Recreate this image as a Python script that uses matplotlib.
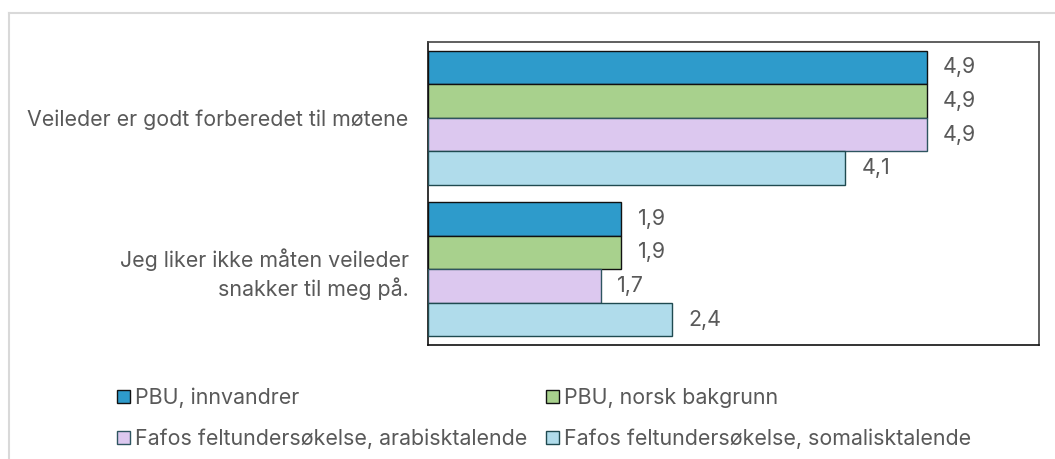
import numpy as np
import matplotlib
matplotlib.use("Agg")
import matplotlib.pyplot as plt
from matplotlib.lines import Line2D
from matplotlib.patches import Patch

plt.rcParams["font.family"] = ["Inter", "DejaVu Sans"]

# ── Data ──────────────────────────────────────────────────────────────────────
categories = ["Veileder er godt forberedet til møtene",
              "Jeg liker ikke måten veileder\nsnakker til meg på."]
series_names = ["PBU, innvandrer",
                "PBU, norsk bakgrunn",
                "Fafos feltundersøkelse, arabisktalende",
                "Fafos feltundersøkelse, somalisktalende"]
values_innvandrer = [4.9, 1.9]
values_norsk = [4.9, 1.9]
values_arabisk = [4.9, 1.7]
values_somalisk = [4.1, 2.4]

series_values = [values_innvandrer, values_norsk, values_arabisk, values_somalisk]
fills = ["#2E9BCB", "#A8D18D", "#DCC8EF", "#B0DCEB"]
edges = ["#111111", "#111111", "#2E5560", "#1F4A50"]
TEXT = "#595959"
FS = 15.4

fig = plt.figure(figsize=(10.55, 4.59), dpi=100)
ax = fig.add_axes([0.4057, 0.2484, 0.5791, 0.6601])

# light outer frame (top + left only)
fig.add_artist(Line2D([9 / 1055, 1.0], [1 - 13 / 459, 1 - 13 / 459],
                      color="#D9D9D9", lw=1.5, transform=fig.transFigure))
fig.add_artist(Line2D([9 / 1055, 9 / 1055], [0.0, 1 - 13 / 459],
                      color="#D9D9D9", lw=1.5, transform=fig.transFigure))

n = len(series_values)
bar_h = 0.885 / n
y_pos = np.arange(len(categories))
for i, (vals, fc, ec) in enumerate(zip(series_values, fills, edges)):
    offs = y_pos - 0.885 / 2 + bar_h * (i + 0.5)
    bars = ax.barh(offs, vals, height=bar_h, color=fc, edgecolor=ec,
                   linewidth=1.0, label=series_names[i], zorder=3)
    for b, v in zip(bars, vals):
        ax.text(b.get_width() + 0.16, b.get_y() + b.get_height() / 2,
                f"{v:.1f}".replace(".", ","), va="center", ha="left",
                fontsize=FS, color=TEXT)

ax.set_xlim(0, 6.0)
ax.set_ylim(len(categories) - 0.5, -0.5)
ax.set_yticks(y_pos)
ax.set_yticklabels(categories, fontsize=FS, color=TEXT, ha="right",
                   multialignment="right", linespacing=1.35)
ax.tick_params(axis="y", length=0, pad=14)
ax.set_xticks([])
for sp in ax.spines.values():
    sp.set_color("#111111")
    sp.set_linewidth(1.2)
ax.spines["right"].set_color("#444444")
ax.spines["top"].set_color("#444444")

# legend: two columns placed at the reference positions
handles = [Patch(facecolor=fc, edgecolor=ec, linewidth=1.0)
           for fc, ec in zip(fills, edges)]
leg_kw = dict(loc="lower left", ncol=1, frameon=False, fontsize=FS,
              labelcolor=TEXT, handlelength=0.6, handleheight=0.6,
              handletextpad=0.25, labelspacing=0.95, borderaxespad=0,
              borderpad=0)
leg1 = fig.legend([handles[0], handles[2]], [series_names[0], series_names[2]],
                  bbox_to_anchor=(117 / 1055, 10 / 459), **leg_kw)
leg2 = fig.legend([handles[1], handles[3]], [series_names[1], series_names[3]],
                  bbox_to_anchor=(546 / 1055, 10 / 459), **leg_kw)

fig.savefig("out.png", dpi=100)
